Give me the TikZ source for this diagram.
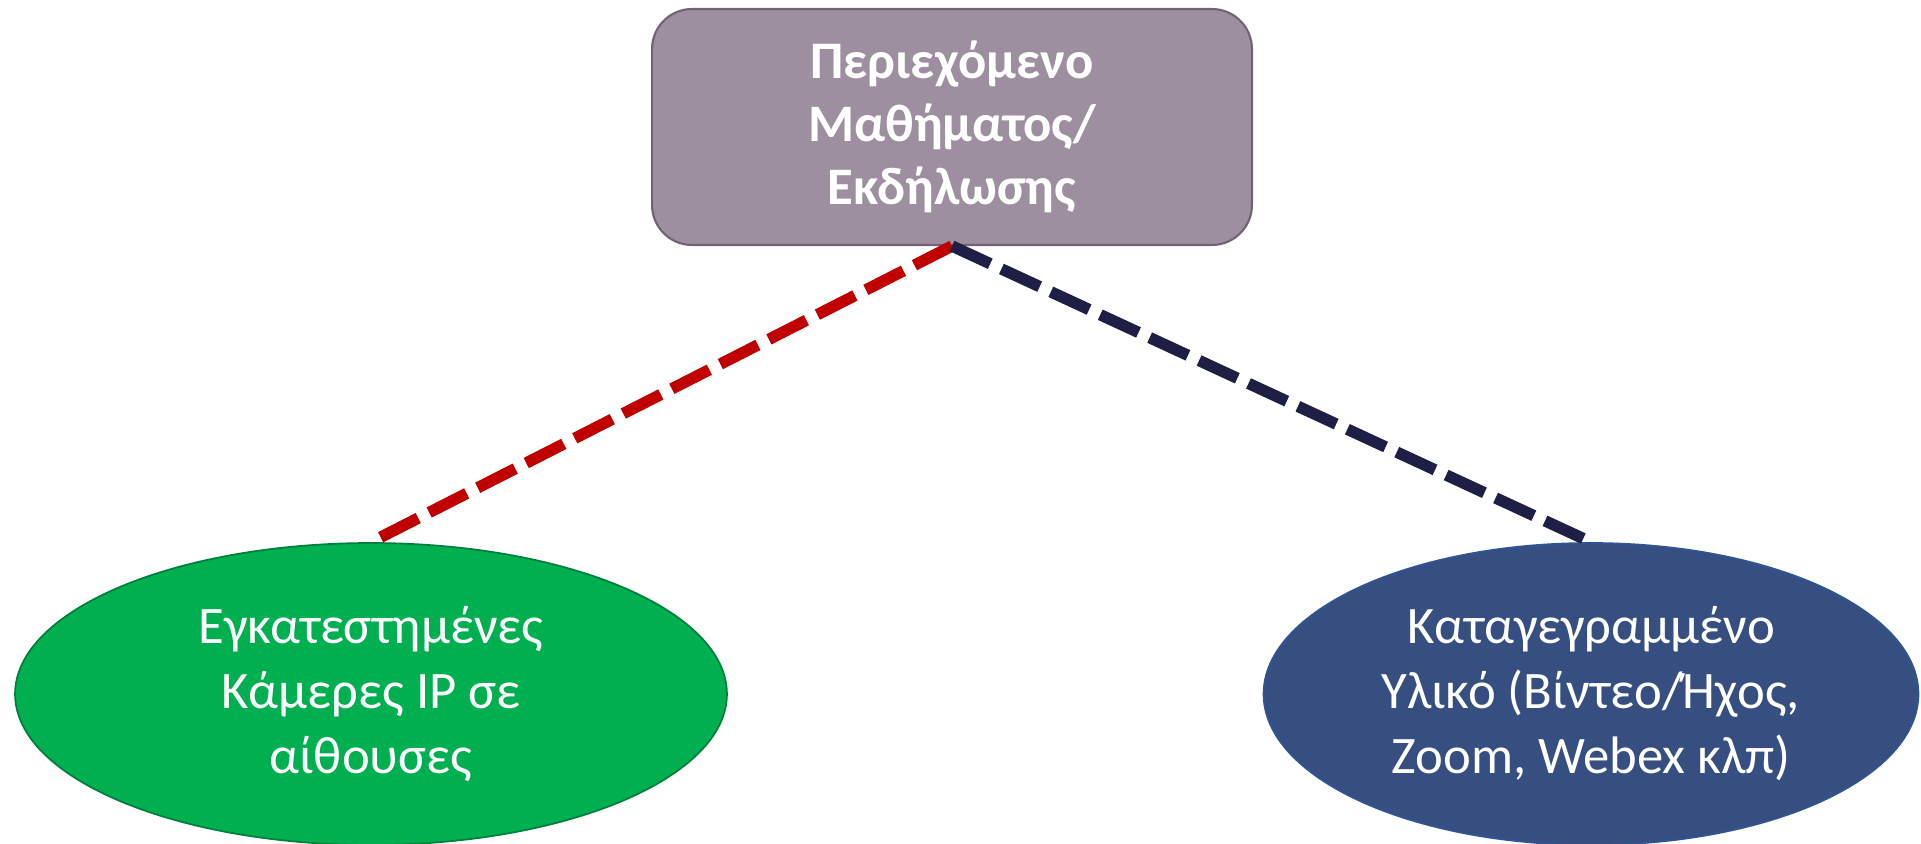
\documentclass[tikz,border=0pt]{standalone}
\usepackage{fontspec}
\setmainfont{Carlito}
\usetikzlibrary{shapes.geometric}
\definecolor{boxgray}{RGB}{158,143,160}
\definecolor{boxedge}{RGB}{113,99,115}
\definecolor{camgreen}{RGB}{0,176,80}
\definecolor{camedge}{RGB}{0,128,60}
\definecolor{recblue}{RGB}{55,78,128}
\definecolor{recedge}{RGB}{47,85,151}
\definecolor{linered}{RGB}{192,0,0}
\definecolor{linenavy}{RGB}{31,31,69}

\begin{document}
\begin{tikzpicture}[x=0.02cm, y=-0.02cm,
        main/.style = {draw=boxedge, line width=1.2pt, text=white, fill=boxgray, rounded corners=0.8cm, minimum width=12cm, minimum height=4.72cm, align=center, font=\fontsize{30}{36}\selectfont\bfseries},
        room/.style = {ellipse, draw=camedge, line width=1pt, text=white, fill=camgreen, minimum width=14.24cm, minimum height=6.04cm, align=center, font=\fontsize{30}{37}\selectfont},
        media/.style = {room, draw=recedge, fill=recblue, minimum width=13.1cm},
        link/.style = {line width=6.5pt, dash pattern=on 24pt off 7pt}]
    \useasboundingbox (0,0) rectangle (1921,844);

    \node[main] (content) at (952,127) {Περιεχόμενο\\Μαθήματος/\\Εκδήλωσης};
    \node[room] (cameras) at (371,694) {Εγκατεστημένες\\Κάμερες IP σε\\αίθουσες};
    \node[media] (recorded) at (1591,694) {Καταγεγραμμένο\\Υλικό (Βίντεο/Ήχος,\\Zoom, Webex κλπ)};

    \draw[link, draw=linered] (content.south) -- (cameras.north);
    \draw[link, draw=linenavy] (content.south) -- (recorded.north);
\end{tikzpicture}
\end{document}
